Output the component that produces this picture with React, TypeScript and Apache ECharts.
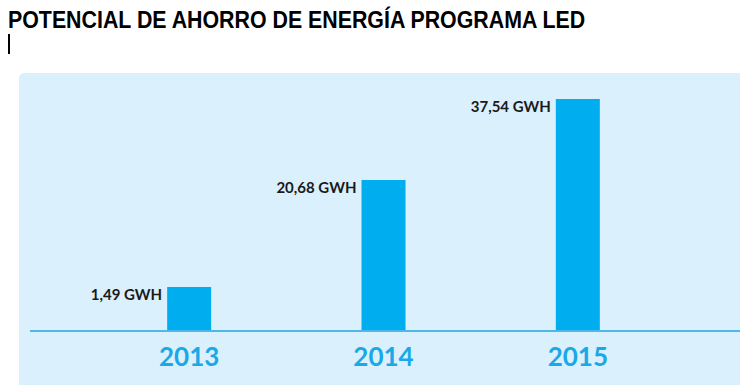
import React, { useEffect, useRef } from "react";
import * as echarts from "echarts";

// Data
const years = ["2013", "2014", "2015"];
const savingsGWh = [1.49, 20.68, 37.54];
// The infographic's bars are not drawn to scale: heights,
// as a percentage of the tallest bar.
const barHeightPct = [18.6, 64.9, 100];
const titleText = "POTENCIAL DE AHORRO DE ENERGÍA PROGRAMA LED";

const fmt = (v: number) => v.toFixed(2).replace(".", ",") + " GWH";

export default function App() {
  const ref = useRef<HTMLDivElement>(null);
  useEffect(() => {
    if (!ref.current) return;
    const chart = echarts.init(ref.current, null, { renderer: "svg" });
    chart.setOption({
      animation: false,
      backgroundColor: "#ffffff",
      grid: { left: 92, right: 65, top: 99, bottom: 55 },
      xAxis: {
        type: "category",
        data: years,
        axisLine: { show: false },
        axisTick: { show: false },
        axisLabel: {
          color: "#1ba8e8",
          fontFamily: "Lato",
          fontWeight: "bold",
          fontSize: 26,
          margin: 13,
        },
      },
      yAxis: {
        type: "value",
        min: 0,
        max: 100,
        show: false,
        splitLine: { show: false },
      },
      series: [
        {
          type: "bar",
          barWidth: 44,
          data: barHeightPct,
          itemStyle: { color: "#00aeef" },
          label: {
            show: true,
            position: [-5, 7],
            align: "right",
            verticalAlign: "middle",
            color: "#1a1a1a",
            fontFamily: "Lato",
            fontWeight: "bold",
            fontSize: 15,
            formatter: (p: any) => fmt(savingsGWh[p.dataIndex]),
          },
        },
      ],
      graphic: [
        {
          type: "rect",
          z: -10,
          shape: { x: 19, y: 73, width: 740, height: 330, r: [5, 0, 0, 0] },
          style: { fill: "#daf0fc" },
        },
        {
          type: "line",
          z: -5,
          shape: { x1: 30, y1: 331, x2: 740, y2: 331 },
          style: { stroke: "#4cb9ea", lineWidth: 2 },
        },
        {
          type: "rect",
          shape: { x: 8, y: 34, width: 2, height: 20 },
          style: { fill: "#000000" },
        },
        {
          type: "text",
          x: 8,
          y: 8,
          scaleX: 0.89,
          style: {
            text: titleText,
            font: "bold 24px 'Liberation Sans', Arial, sans-serif",
            fill: "#000000",
            textVerticalAlign: "top",
          },
        },
      ],
    });
    return () => chart.dispose();
  }, []);
  return (
    <div
      ref={ref}
      style={{ position: "fixed", left: 0, top: 0, width: 740, height: 385 }}
    />
  );
}
